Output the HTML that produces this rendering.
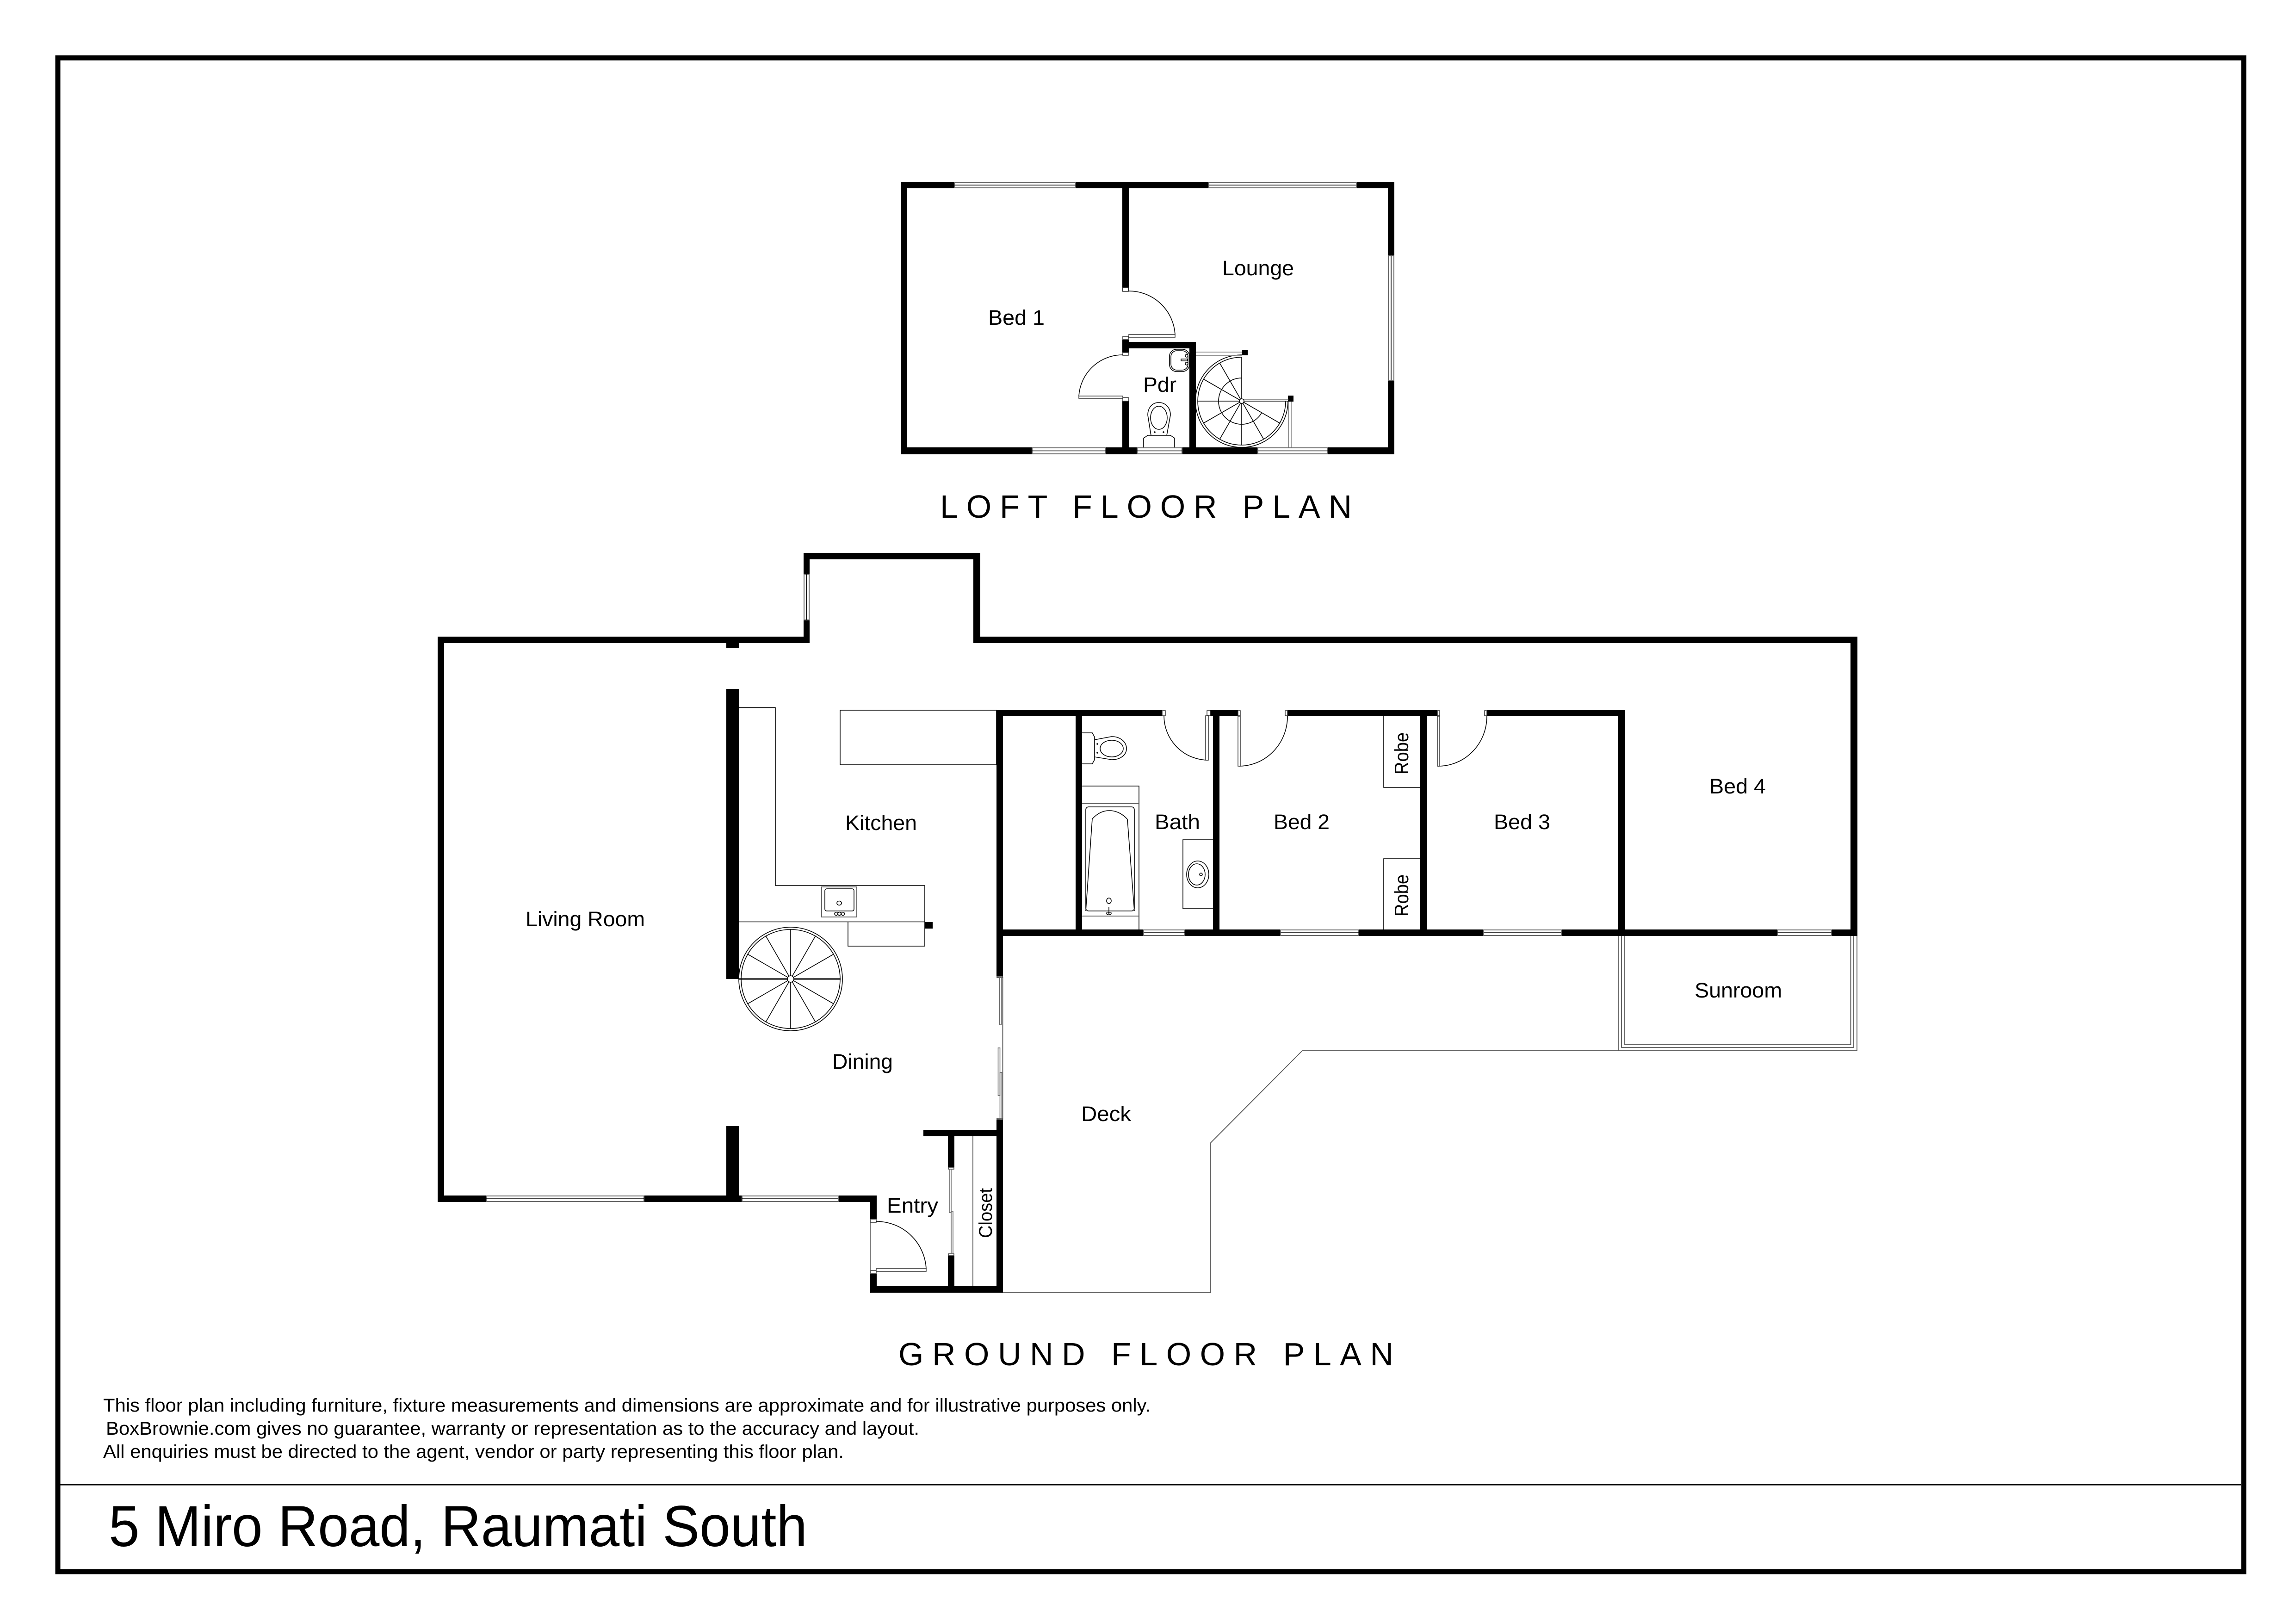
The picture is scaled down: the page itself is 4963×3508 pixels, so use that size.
<!DOCTYPE html>
<html lang="en"><head><meta charset="utf-8"><title>5 Miro Road, Raumati South</title>
<style>
html,body{margin:0;padding:0;background:#fff}
svg{display:block}
text{font-family:"Liberation Sans",sans-serif;fill:#000}
.l{fill:none;stroke:#000;stroke-width:1.6}
.g{fill:none;stroke:#555;stroke-width:1.8}
.w{fill:#fff;stroke:#666;stroke-width:2}
.j{fill:#fff;stroke:#333;stroke-width:1.5}
</style></head><body>
<svg xmlns="http://www.w3.org/2000/svg" width="4963" height="3508" viewBox="0 0 4963 3508">
<rect width="4963" height="3508" fill="#fff"/>
<!-- frame -->
<rect x="125" y="125" width="4725" height="3272" fill="none" stroke="#000" stroke-width="11"/>
<rect x="130" y="3207" width="4714" height="3.5" fill="#000"/>

<!-- LOFT walls -->
<g fill="#000">
<rect x="1947" y="393" width="1067" height="14"/>
<rect x="1947" y="393" width="14" height="589"/>
<rect x="3000" y="393" width="14" height="589"/>
<rect x="1947" y="967" width="1067" height="15"/>
<rect x="2426" y="393" width="14" height="237"/>
<rect x="2426" y="734" width="14" height="28"/>
<rect x="2440" y="739" width="145" height="14"/>
<rect x="2571" y="739" width="14" height="228"/>
<rect x="2426" y="867" width="14" height="100"/>
<rect x="2685" y="756" width="12" height="12"/>
<rect x="2784" y="855" width="12" height="13"/>
</g>
<!-- LOFT windows -->
<rect class="w" x="2063" y="394" width="262" height="12"/><path class="l" d="M2063 400H2325"/>
<rect class="w" x="2613" y="394" width="319" height="12"/><path class="l" d="M2613 400H2932"/>
<rect class="w" x="3001" y="553" width="12" height="269"/><path class="l" d="M3007 553V822"/>
<rect class="w" x="2231" y="968" width="159" height="13"/><path class="l" d="M2231 974.500H2390"/>
<rect class="w" x="2458" y="968" width="97" height="13"/><path class="l" d="M2458 974.500H2555"/>
<rect class="w" x="2719" y="968" width="151" height="13"/><path class="l" d="M2719 974.500H2870"/>
<!-- LOFT doors -->
<rect class="j" x="2427" y="622" width="12" height="8"/>
<rect class="j" x="2427" y="727" width="12" height="7"/>
<rect class="j" x="2427" y="762" width="12" height="6"/>
<rect class="j" x="2427" y="859" width="12" height="8"/>
<path class="l" d="M2440 629A100 100 0 0 1 2540 723"/>
<rect class="j" x="2440" y="723" width="100" height="6"/>
<path class="l" d="M2427 767A95 95 0 0 0 2332 856"/>
<rect class="j" x="2332" y="856" width="95" height="5"/>
<!-- LOFT stair -->
<path class="l" d="M2684 767A100 100 0 1 0 2784 867M2684 772A95 95 0 1 0 2779 867"/>
<path class="l" d="M2684 867V772M2684 867L2636.500 784.700M2684 867L2601.700 819.500M2684 867H2589M2684 867L2601.700 914.500M2684 867L2636.500 949.300M2684 867V962M2684 867L2731.500 949.300M2684 867L2766.300 914.500M2684 817A50 50 0 1 0 2727.300 892"/>
<path class="l" d="M2684 867H2784"/>
<path class="g" style="stroke:#888" d="M2585 761H2685M2585 768H2684M2684 864H2785M2785 868V967M2791 868V967"/>
<circle class="l" cx="2684" cy="867" r="5" style="fill:#fff"/>
<!-- Pdr fixtures -->
<rect class="l" x="2528" y="755" width="43" height="48" rx="15"/>
<rect class="l" x="2531" y="758" width="37" height="42" rx="13"/>
<path class="l" d="M2553 776H2567V780H2553Z"/>
<circle class="l" cx="2565" cy="769" r="3"/><circle class="l" cx="2565" cy="786" r="3"/>
<path class="l" d="M2472 967V947L2481 941H2530L2539 947V967"/>
<path class="l" d="M2488 941L2481 897C2481 880 2492 870 2505 870C2518 870 2530 880 2530 897L2522 941"/>
<ellipse class="l" cx="2505" cy="903" rx="18" ry="25"/>
<circle cx="2496" cy="934" r="1.800"/><circle cx="2515" cy="934" r="1.800"/>
<!-- LOFT labels -->
<text x="2136" y="702" font-size="45" textLength="122" lengthAdjust="spacingAndGlyphs">Bed 1</text>
<text x="2642" y="595" font-size="45" textLength="155" lengthAdjust="spacingAndGlyphs">Lounge</text>
<text x="2471" y="847" font-size="45" textLength="72" lengthAdjust="spacingAndGlyphs">Pdr</text>
<text x="2032" y="1119" font-size="70" textLength="890" lengthAdjust="spacing">LOFT FLOOR PLAN</text>

<!-- GROUND light fixtures (behind walls) -->
<path class="l" d="M1598 1529.500H1676V1914H1999V2045H1833V1992.500M1598 1992.500H1999"/>
<rect class="l" x="1816" y="1535" width="338" height="118"/>
<!-- GROUND walls -->
<g fill="#000">
<rect x="946" y="1376" width="804" height="14"/>
<rect x="1737" y="1195" width="13" height="195"/>
<rect x="1737" y="1195" width="382" height="14"/>
<rect x="2104" y="1195" width="15" height="195"/>
<rect x="2104" y="1376" width="1911" height="14"/>
<rect x="4000" y="1376" width="15" height="647"/>
<rect x="946" y="1376" width="14" height="1222"/>
<rect x="946" y="2584" width="949" height="14"/>
<rect x="1570" y="1489" width="28" height="627"/>
<rect x="1570" y="1390" width="28" height="11"/>
<rect x="1570" y="2434" width="28" height="150"/>
<rect x="1881" y="2584" width="14" height="51"/>
<rect x="1881" y="2753" width="14" height="41"/>
<rect x="1881" y="2780" width="287" height="14"/>
<rect x="2049" y="2456" width="14" height="67"/>
<rect x="2049" y="2714" width="14" height="66"/>
<rect x="1996" y="2442" width="172" height="14"/>
<rect x="2154" y="2420" width="14" height="374"/>
<rect x="2154" y="1535" width="14" height="575"/>
<rect x="2154" y="1535" width="358" height="13"/>
<rect x="2616" y="1535" width="60" height="13"/>
<rect x="2783" y="1535" width="324" height="13"/>
<rect x="3214" y="1535" width="298" height="13"/>
<rect x="2325" y="1535" width="14" height="488"/>
<rect x="2622" y="1535" width="14" height="488"/>
<rect x="3070" y="1535" width="14" height="488"/>
<rect x="3498" y="1535" width="14" height="488"/>
<rect x="2154" y="2009" width="1861" height="14"/>
<rect x="1999" y="1993" width="17" height="14"/>
</g>
<!-- GROUND windows -->
<rect class="w" x="1738" y="1241" width="11" height="99"/><path class="l" d="M1743.500 1241V1340"/>
<rect class="w" x="1051" y="2585" width="341" height="12"/><path class="l" d="M1051 2591H1392"/>
<rect class="w" x="1604" y="2585" width="208" height="12"/><path class="l" d="M1604 2591H1812"/>
<rect class="w" x="2472" y="2010" width="89" height="12"/><path class="l" d="M2472 2016H2561"/>
<rect class="w" x="2768" y="2010" width="169" height="12"/><path class="l" d="M2768 2016H2937"/>
<rect class="w" x="3207" y="2010" width="168" height="12"/><path class="l" d="M3207 2016H3375"/>
<rect class="w" x="3842" y="2010" width="117" height="12"/><path class="l" d="M3842 2016H3959"/>
<!-- Dining sliding doors -->
<rect class="j" x="2155" y="2110" width="12" height="3"/>
<rect class="j" x="2155" y="2417" width="12" height="3"/>
<path class="g" d="M2167.500 2112V2420"/>
<rect class="l" style="stroke:#666" x="2160.500" y="2113" width="4" height="102"/>
<rect class="l" style="stroke:#666" x="2157.500" y="2265" width="4" height="103"/>
<rect class="l" style="stroke:#666" x="2161.500" y="2318" width="4" height="102"/>
<!-- Closet sliding door + lines -->
<rect class="j" x="2050" y="2523" width="12" height="4"/>
<rect class="j" x="2050" y="2710" width="12" height="4"/>
<rect class="l" style="stroke:#666" x="2052" y="2527" width="4" height="94"/>
<rect class="l" style="stroke:#666" x="2056" y="2618" width="4" height="92"/>
<path class="g" d="M2103 2456V2780"/>
<!-- Entry door -->
<path class="g" d="M1881 2642V2746"/>
<rect class="j" x="1882" y="2635" width="12" height="7"/>
<rect class="j" x="1882" y="2746" width="12" height="7"/>
<path class="l" d="M1894 2640A108 108 0 0 1 2002 2742"/>
<rect class="j" x="1894" y="2742" width="108" height="6"/>
<!-- Bedroom doors -->
<rect class="j" x="2512" y="1536" width="7" height="11"/>
<rect class="j" x="2609" y="1536" width="7" height="10"/>
<path class="l" d="M2516 1547A96 96 0 0 0 2612 1643"/>
<rect class="j" x="2606" y="1547" width="6" height="96"/>
<rect class="j" x="2676" y="1536" width="5" height="11"/>
<rect class="j" x="2778" y="1536" width="5" height="11"/>
<path class="l" d="M2783 1548A105 108 0 0 1 2678 1656"/>
<rect class="j" x="2676" y="1548" width="5" height="108"/>
<rect class="j" x="3107" y="1536" width="5" height="11"/>
<rect class="j" x="3209" y="1536" width="5" height="11"/>
<path class="l" d="M3214 1548A105 108 0 0 1 3109 1656"/>
<rect class="j" x="3107" y="1548" width="5" height="108"/>
<!-- Robes -->
<path class="l" d="M2991 1548V1702H3070M2991 2009V1856H3070"/>
<!-- Ground stair -->
<circle class="l" cx="1709" cy="2116" r="112"/>
<circle class="l" cx="1709" cy="2116" r="107"/>
<path class="l" d="M1709 2008V2224M1615.500 2062L1802.500 2170M1615.500 2170L1802.500 2062M1655 2022.500L1763 2209.500M1655 2209.500L1763 2022.500"/>
<path d="M1598 2116H1817" stroke="#000" stroke-width="3" fill="none"/>
<circle class="l" cx="1709" cy="2116" r="7" style="fill:#fff"/>
<!-- Sink -->
<rect class="g" x="1776" y="1917" width="76" height="65"/>
<rect class="l" x="1783" y="1921" width="63" height="48" rx="4"/>
<ellipse class="l" cx="1814" cy="1952" rx="5" ry="4.500"/>
<circle class="l" cx="1807.500" cy="1975" r="3.500"/><circle class="l" cx="1814.500" cy="1975" r="3.500"/><circle class="l" cx="1822" cy="1975" r="3.500"/>
<!-- Bath fixtures -->
<path class="l" d="M2339 1584H2361L2366 1593V1642L2361 1651H2339"/>
<path class="l" d="M2366 1599L2403 1592C2422 1592 2435 1604 2435 1618C2435 1632 2422 1642 2403 1642L2366 1636"/>
<ellipse class="l" cx="2403" cy="1618" rx="25" ry="18"/>
<circle cx="2372" cy="1608" r="1.800"/><circle cx="2372" cy="1627" r="1.800"/>
<path class="l" d="M2339 1699H2462V2009"/><path class="g" d="M2339 1737H2462M2339 1980H2462"/>
<rect class="l" x="2347" y="1744" width="105" height="225" rx="6"/>
<path class="l" d="M2347 1969L2361 1770C2372 1758 2385 1752 2398 1752C2412 1752 2427 1759 2437 1771L2452 1969"/>
<ellipse class="l" cx="2397" cy="1947" rx="5" ry="6"/>
<path class="l" d="M2397 1960V1972"/><circle class="l" cx="2394.500" cy="1974" r="2.500"/><circle class="l" cx="2399.500" cy="1974" r="2.500"/>
<path class="l" d="M2622 1815H2557V1964H2622"/>
<ellipse class="l" cx="2589" cy="1890" rx="24" ry="29"/>
<ellipse class="l" cx="2587" cy="1890" rx="18" ry="23"/>
<circle class="l" cx="2596" cy="1890" r="3"/>
<!-- Deck + sunroom -->
<path class="g" d="M2168 2794H2617V2470L2815 2271H3498"/>
<path class="g" d="M3498 2023V2271H4014V2023"/>
<path class="g" d="M3505 2023V2264H4007V2023"/>
<path class="g" d="M3512 2023V2258H4000.500V2023"/>
<!-- GROUND labels -->
<text x="1136" y="2002" font-size="45" textLength="258" lengthAdjust="spacingAndGlyphs">Living Room</text>
<text x="1827" y="1794" font-size="45" textLength="155" lengthAdjust="spacingAndGlyphs">Kitchen</text>
<text x="1799" y="2310" font-size="45" textLength="131" lengthAdjust="spacingAndGlyphs">Dining</text>
<text x="1917" y="2621" font-size="45" textLength="111" lengthAdjust="spacingAndGlyphs">Entry</text>
<text x="2337" y="2423" font-size="45" textLength="108" lengthAdjust="spacingAndGlyphs">Deck</text>
<text x="2496" y="1792" font-size="45" textLength="98" lengthAdjust="spacingAndGlyphs">Bath</text>
<text x="2753" y="1792" font-size="45" textLength="121" lengthAdjust="spacingAndGlyphs">Bed 2</text>
<text x="3229" y="1792" font-size="45" textLength="122" lengthAdjust="spacingAndGlyphs">Bed 3</text>
<text x="3695" y="1715" font-size="45" textLength="122" lengthAdjust="spacingAndGlyphs">Bed 4</text>
<text x="3663" y="2156" font-size="45" textLength="189" lengthAdjust="spacingAndGlyphs">Sunroom</text>
<text transform="translate(3044 1674) rotate(-90)" font-size="42" textLength="91" lengthAdjust="spacingAndGlyphs">Robe</text>
<text transform="translate(3044 1981) rotate(-90)" font-size="42" textLength="91" lengthAdjust="spacingAndGlyphs">Robe</text>
<text transform="translate(2144 2676) rotate(-90)" font-size="40" textLength="108" lengthAdjust="spacingAndGlyphs">Closet</text>
<text x="1942" y="2951" font-size="70" textLength="1070" lengthAdjust="spacing">GROUND FLOOR PLAN</text>
<!-- Footer -->
<text x="223" y="3051" font-size="40" textLength="2264" lengthAdjust="spacingAndGlyphs">This floor plan including furniture, fixture measurements and dimensions are approximate and for illustrative purposes only.</text>
<text x="229" y="3101" font-size="40" textLength="1758" lengthAdjust="spacingAndGlyphs">BoxBrownie.com gives no guarantee, warranty or representation as to the accuracy and layout.</text>
<text x="223" y="3151" font-size="40" textLength="1601" lengthAdjust="spacingAndGlyphs">All enquiries must be directed to the agent, vendor or party representing this floor plan.</text>
<text x="235" y="3342" font-size="125" textLength="1510" lengthAdjust="spacingAndGlyphs">5 Miro Road, Raumati South</text>
</svg>
</body></html>
